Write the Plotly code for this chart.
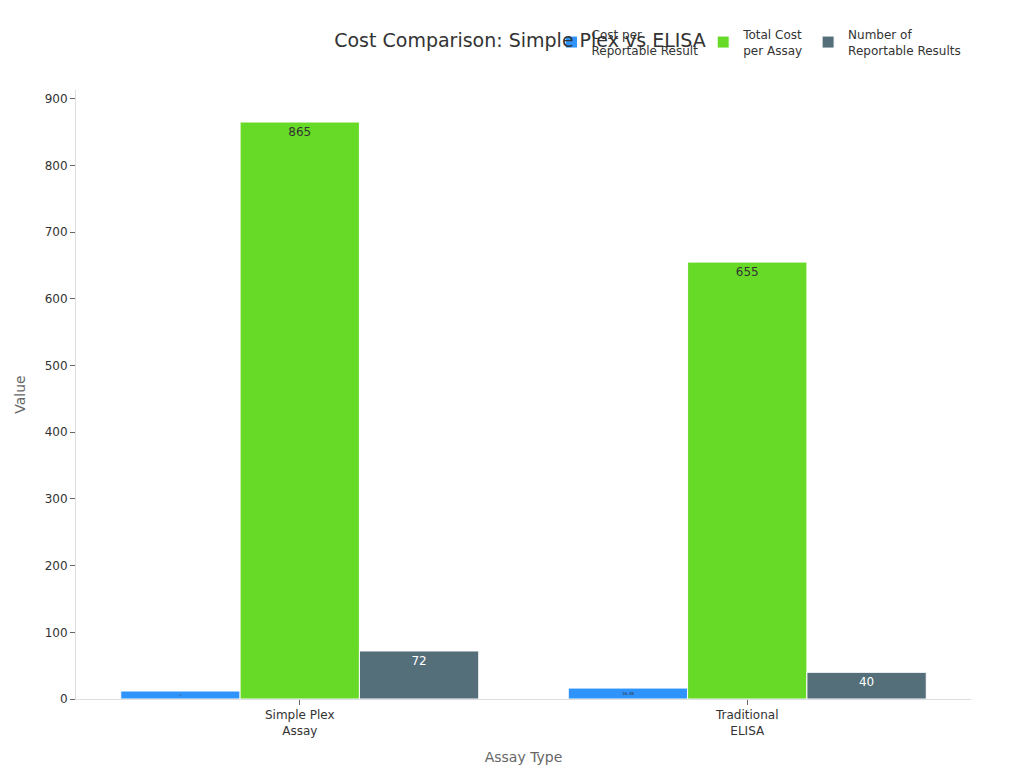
import plotly.graph_objects as go

categories = ["Simple Plex<br>Assay", "Traditional<br>ELISA"]
cost_per_result = [12, 16.38]
total_cost = [865, 655]
num_results = [72, 40]

fig = go.Figure()
fig.add_bar(name="Cost per<br>Reportable Result", x=categories, y=cost_per_result,
            marker=dict(color="#2E93FA", line=dict(color="white", width=1)),
            text=[str(v) for v in cost_per_result], textposition="inside", textangle=0,
            insidetextanchor="end", textfont=dict(color="#333"))
fig.add_bar(name="Total Cost<br>per Assay", x=categories, y=total_cost,
            marker=dict(color="#66DA26", line=dict(color="white", width=1)),
            text=[str(v) for v in total_cost], textposition="inside", textangle=0,
            insidetextanchor="end", textfont=dict(color="#333", size=12))
fig.add_bar(name="Number of<br>Reportable Results", x=categories, y=num_results,
            marker=dict(color="#546E7A", line=dict(color="white", width=1)),
            text=[str(v) for v in num_results], textposition="inside", textangle=0,
            insidetextanchor="end", textfont=dict(color="white", size=12))

fig.update_layout(
    width=1024, height=768,
    title=dict(text="Cost Comparison: Simple Plex vs ELISA", x=0.5, y=0.967,
               font=dict(size=19, color="#333")),
    font=dict(family="DejaVu Sans, sans-serif", size=12, color="#333"),
    plot_bgcolor="white", paper_bgcolor="white",
    barmode="group", bargap=0.2, bargroupgap=0,
    margin=dict(l=68, r=61, t=78, b=77),
    legend=dict(orientation="h", x=0.995, xanchor="right", y=1.115, yanchor="top",
                font=dict(size=12)),
    xaxis=dict(title=dict(text="Assay Type", font=dict(size=14, color="#666")),
               showline=True, linecolor="#ddd", ticks="outside", tickcolor="#666"),
    yaxis=dict(title=dict(text="Value", font=dict(size=14, color="#666")),
               range=[0, 913], dtick=100, showgrid=False, showline=True, linecolor="#ddd",
               ticks="outside", tickcolor="#666", zeroline=False),
)
fig.write_html("out.html")
